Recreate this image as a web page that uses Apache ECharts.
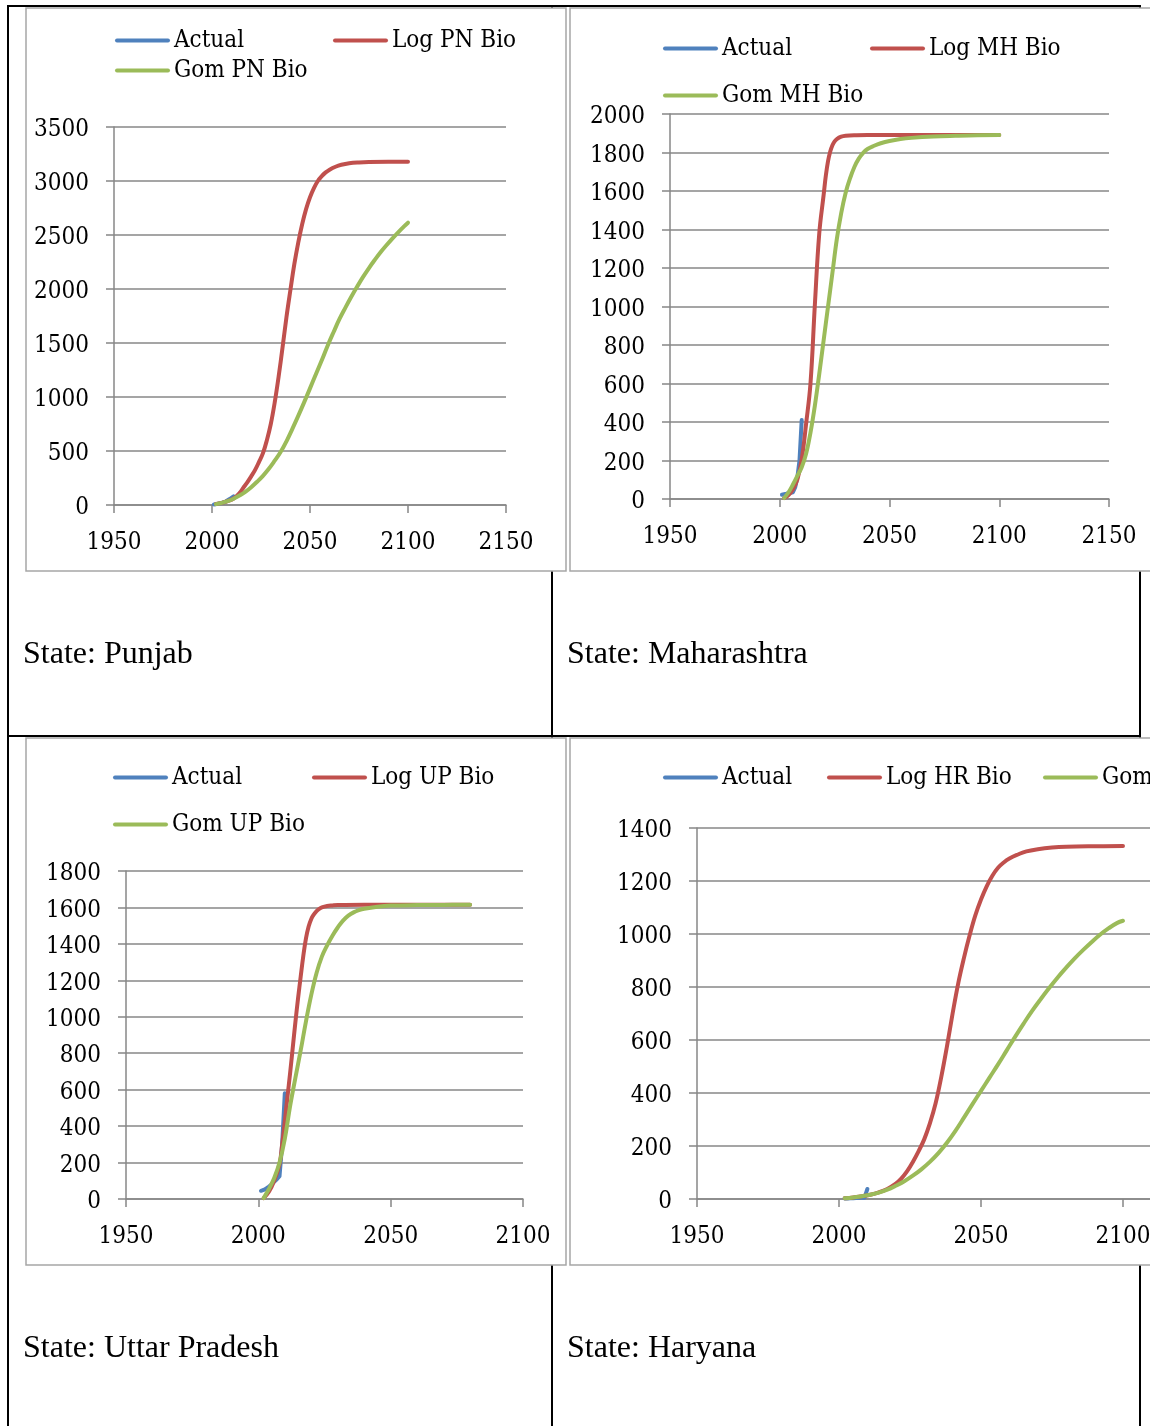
<!DOCTYPE html>
<html>
<head>
<meta charset="utf-8">
<script src="https://cdn.jsdelivr.net/npm/echarts@6/dist/echarts.min.js"></script>
<style>
html,body{margin:0;padding:0;overflow:hidden;background:#fff;}
#c{width:1150px;height:1426px;}
</style>
</head>
<body>
<div id="c"></div>
<script>
// ---------------- DATA ----------------
// Punjab
const PN_ACT_YEARS = [2001, 2002, 2003, 2004, 2005, 2006, 2007, 2008, 2009, 2010, 2011];
const PN_ACT = [5, 8, 12, 15, 20, 25, 32, 42, 55, 72, 80];
const PN_LOG_YEARS = [2002, 2005, 2008, 2011, 2014, 2016, 2018, 2020, 2022, 2024, 2026, 2028, 2030, 2032, 2034, 2036, 2038, 2040, 2042, 2044, 2046, 2048, 2050, 2052, 2054, 2056, 2058, 2060, 2063, 2066, 2070, 2075, 2080, 2090, 2100];
const PN_LOG = [10, 20, 36, 60, 110, 160, 210, 265, 325, 400, 480, 600, 750, 950, 1190, 1460, 1740, 1990, 2230, 2430, 2600, 2740, 2850, 2935, 3000, 3045, 3080, 3105, 3132, 3150, 3164, 3172, 3176, 3178, 3178];
const PN_GOM_YEARS = [2002, 2005, 2008, 2011, 2014, 2017, 2020, 2023, 2026, 2029, 2032, 2035, 2038, 2041, 2044, 2047, 2050, 2053, 2056, 2059, 2062, 2065, 2068, 2071, 2074, 2077, 2080, 2083, 2086, 2089, 2092, 2095, 2098, 2100];
const PN_GOM = [8, 20, 36, 58, 88, 122, 165, 215, 270, 335, 410, 490, 590, 705, 825, 950, 1080, 1210, 1340, 1475, 1600, 1720, 1825, 1925, 2020, 2110, 2192, 2268, 2340, 2405, 2467, 2525, 2580, 2614];

// Maharashtra
const MH_ACT_YEARS = [2001, 2002, 2003, 2004, 2005, 2006, 2007, 2008, 2009, 2010];
const MH_ACT = [22, 25, 27, 30, 32, 35, 60, 110, 200, 410];
const MH_LOG_YEARS = [2002, 2004, 2006, 2008, 2010, 2012, 2014, 2016, 2018, 2020, 2021, 2022, 2023, 2024, 2025, 2026, 2028, 2030, 2035, 2040, 2050, 2070, 2100];
const MH_LOG = [5, 20, 50, 100, 205, 390, 600, 1010, 1380, 1580, 1680, 1755, 1805, 1838, 1858, 1870, 1882, 1887, 1890, 1891, 1891, 1891, 1891];
const MH_GOM_YEARS = [2002, 2004, 2006, 2008, 2010, 2012, 2014, 2016, 2018, 2020, 2022, 2024, 2026, 2028, 2030, 2032, 2034, 2036, 2038, 2040, 2043, 2046, 2050, 2055, 2060, 2070, 2080, 2090, 2100];
const MH_GOM = [5, 35, 75, 120, 165, 235, 345, 485, 650, 825, 1000, 1175, 1350, 1485, 1590, 1665, 1725, 1768, 1798, 1818, 1835, 1848, 1860, 1870, 1876, 1883, 1887, 1890, 1891];

// Uttar Pradesh
const UP_ACT_YEARS = [2001, 2002, 2003, 2004, 2005, 2006, 2007, 2008, 2009, 2010];
const UP_ACT = [45, 50, 58, 68, 80, 95, 108, 125, 300, 580];
const UP_LOG_YEARS = [2002, 2004, 2006, 2008, 2009, 2010, 2011, 2012, 2013, 2014, 2015, 2016, 2017, 2018, 2019, 2020, 2021, 2022, 2023, 2024, 2026, 2028, 2030, 2040, 2060, 2080];
const UP_LOG = [5, 40, 100, 190, 300, 425, 560, 690, 830, 970, 1100, 1220, 1335, 1430, 1495, 1537, 1562, 1580, 1592, 1600, 1608, 1611, 1613, 1615, 1615, 1615];
const UP_GOM_YEARS = [2002, 2004, 2006, 2008, 2010, 2012, 2014, 2016, 2018, 2020, 2022, 2024, 2026, 2028, 2030, 2032, 2034, 2036, 2038, 2040, 2045, 2050, 2060, 2070, 2080];
const UP_GOM = [5, 55, 115, 200, 330, 510, 665, 815, 975, 1120, 1240, 1330, 1392, 1445, 1490, 1528, 1555, 1573, 1585, 1593, 1604, 1610, 1613, 1614, 1615];

// Haryana
const HR_ACT_YEARS = [2002, 2003, 2004, 2005, 2006, 2007, 2008, 2009, 2010];
const HR_ACT = [2, 2, 3, 3, 4, 4, 5, 5, 38];
const HR_LOG_YEARS = [2002, 2005, 2008, 2011, 2014, 2017, 2020, 2022, 2024, 2026, 2028, 2030, 2032, 2034, 2036, 2038, 2040, 2042, 2044, 2046, 2048, 2050, 2052, 2054, 2056, 2058, 2060, 2063, 2066, 2070, 2075, 2080, 2090, 2100];
const HR_LOG = [3, 6, 10, 16, 25, 38, 58, 78, 105, 140, 180, 225, 285, 360, 460, 575, 700, 815, 910, 995, 1070, 1130, 1180, 1220, 1250, 1270, 1285, 1300, 1312, 1320, 1326, 1329, 1331, 1332];
const HR_GOM_YEARS = [2002, 2005, 2008, 2011, 2014, 2017, 2020, 2023, 2026, 2029, 2032, 2035, 2038, 2041, 2044, 2047, 2050, 2053, 2056, 2059, 2062, 2065, 2068, 2071, 2074, 2077, 2080, 2083, 2086, 2089, 2092, 2095, 2098, 2100];
const HR_GOM = [3, 6, 10, 16, 24, 35, 50, 67, 88, 112, 140, 173, 212, 257, 307, 358, 408, 458, 508, 560, 612, 662, 710, 754, 796, 836, 873, 908, 940, 970, 998, 1022, 1042, 1050];

const CAPTIONS = ['State: Punjab', 'State: Maharashtra', 'State: Uttar Pradesh', 'State: Haryana'];
const NAMES = [
  ['Actual', 'Log PN Bio', 'Gom PN Bio'],
  ['Actual', 'Log MH Bio', 'Gom MH Bio'],
  ['Actual', 'Log UP Bio', 'Gom UP Bio'],
  ['Actual', 'Log HR Bio', 'Gom HR Bio']
];

// ---------------- LAYOUT / STYLE ----------------
const FONT = '"DejaVu Serif Condensed", "DejaVu Serif", serif';
const CAP_FONT = '"Liberation Serif", "Times New Roman", serif';
const GRAY = '#878787';
const COLORS = ['#4F81BD', '#C0504D', '#9BBB59'];
const ICON = 'path://M2,0H53A2,2,0,0,1,53,4H2A2,2,0,0,1,2,0Z';

const panels = [
  {grid: {left: 114, top: 127, width: 392, height: 378}, xmin: 1950, xmax: 2150, ymax: 3500, yint: 500,
   legend: [[115, 38], [333, 38], [115, 68]],
   data: [[PN_ACT_YEARS, PN_ACT], [PN_LOG_YEARS, PN_LOG], [PN_GOM_YEARS, PN_GOM]]},
  {grid: {left: 670, top: 114, width: 439, height: 385}, xmin: 1950, xmax: 2150, ymax: 2000, yint: 200,
   legend: [[663, 46], [870, 46], [663, 93]],
   data: [[MH_ACT_YEARS, MH_ACT], [MH_LOG_YEARS, MH_LOG], [MH_GOM_YEARS, MH_GOM]]},
  {grid: {left: 126, top: 871, width: 397, height: 328}, xmin: 1950, xmax: 2100, ymax: 1800, yint: 200,
   legend: [[113, 775], [312, 775], [113, 822]],
   data: [[UP_ACT_YEARS, UP_ACT], [UP_LOG_YEARS, UP_LOG], [UP_GOM_YEARS, UP_GOM]]},
  {grid: {left: 697, top: 828, width: 568, height: 371}, xmin: 1950, xmax: 2150, ymax: 1400, yint: 200,
   legend: [[663, 775], [827, 775], [1043, 775]],
   data: [[HR_ACT_YEARS, HR_ACT], [HR_LOG_YEARS, HR_LOG], [HR_GOM_YEARS, HR_GOM]]}
];

const pair = (xs, ys) => xs.map((x, i) => [x, ys[i]]);

const grids = [], xAxes = [], yAxes = [], series = [], legends = [];
panels.forEach((p, i) => {
  grids.push(Object.assign({containLabel: false, outerBoundsMode: 'none'}, p.grid));
  xAxes.push({
    type: 'value', gridIndex: i, min: p.xmin, max: p.xmax, interval: 50,
    axisLine: {show: true, onZero: false, lineStyle: {color: GRAY, width: 1.5}},
    axisTick: {show: true, length: 8, lineStyle: {color: GRAY, width: 1.5}},
    splitLine: {show: false},
    axisLabel: {margin: 22, color: '#000', fontFamily: FONT, fontSize: 24, lineHeight: 24,
      padding: [4, 0, 0, 0], formatter: v => String(v)}
  });
  yAxes.push({
    type: 'value', gridIndex: i, min: 0, max: p.ymax, interval: p.yint,
    axisLine: {show: true, lineStyle: {color: GRAY, width: 1.5}},
    axisTick: {show: true, length: 8, lineStyle: {color: GRAY, width: 1.5}},
    splitLine: {show: true, lineStyle: {color: GRAY, width: 1.5}},
    axisLabel: {margin: 25, color: '#000', fontFamily: FONT, fontSize: 24, lineHeight: 6,
      verticalAlign: 'top', formatter: v => String(v)}
  });
  p.data.forEach((d, k) => {
    series.push({
      name: NAMES[i][k], type: 'line', xAxisIndex: i, yAxisIndex: i,
      data: pair(d[0], d[1]), symbol: 'none', smooth: k === 0 ? false : 0.4,
      z: 2 + k,
      lineStyle: {width: 4, color: COLORS[k], cap: 'round', join: 'round'},
      itemStyle: {color: COLORS[k]},
      emphasis: {disabled: true}
    });
    legends.push({
      data: [{name: NAMES[i][k], icon: ICON}],
      left: p.legend[k][0], top: p.legend[k][1] - 12,
      padding: 0, itemWidth: 55, itemHeight: 4, itemGap: 0, width: 800,
      selectedMode: false,
      textStyle: {color: '#000', fontFamily: FONT, fontSize: 24, lineHeight: 24, padding: [5, 0, 0, -1]}
    });
  });
});

// table borders & panel frames
const graphic = [];
const blk = (x1, y1, x2, y2) => ({type: 'line', z: -20, silent: true,
  shape: {x1, y1, x2, y2}, style: {stroke: '#000', lineWidth: 2}});
graphic.push(blk(8, 6, 8, 1426));
graphic.push(blk(7, 6, 1141, 6));
graphic.push(blk(1140, 6, 1140, 1426));
graphic.push(blk(552, 6, 552, 1426));
graphic.push(blk(7, 736, 1141, 736));
const frame = (x, y, w, h) => ({type: 'rect', z: -10, silent: true,
  shape: {x, y, width: w, height: h}, style: {fill: '#fff', stroke: '#a6a6a6', lineWidth: 1.5}});
graphic.push(frame(26, 8, 540, 563));
graphic.push(frame(570, 8, 720, 563));
graphic.push(frame(26, 738, 540, 527));
graphic.push(frame(570, 738, 720, 527));
const cap = (t, x, y) => ({type: 'text', z: 10, silent: true,
  style: {text: t, x, y, fill: '#000', font: '32px ' + CAP_FONT, verticalAlign: 'middle', align: 'left'}});
graphic.push(cap(CAPTIONS[0], 23, 655));
graphic.push(cap(CAPTIONS[1], 567, 655));
graphic.push(cap(CAPTIONS[2], 23, 1349));
graphic.push(cap(CAPTIONS[3], 567, 1349));

const chart = echarts.init(document.getElementById('c'), null, {renderer: 'canvas'});
chart.setOption({
  animation: false,
  backgroundColor: '#fff',
  grid: grids, xAxis: xAxes, yAxis: yAxes, series, legend: legends, graphic
});
</script>
</body>
</html>
